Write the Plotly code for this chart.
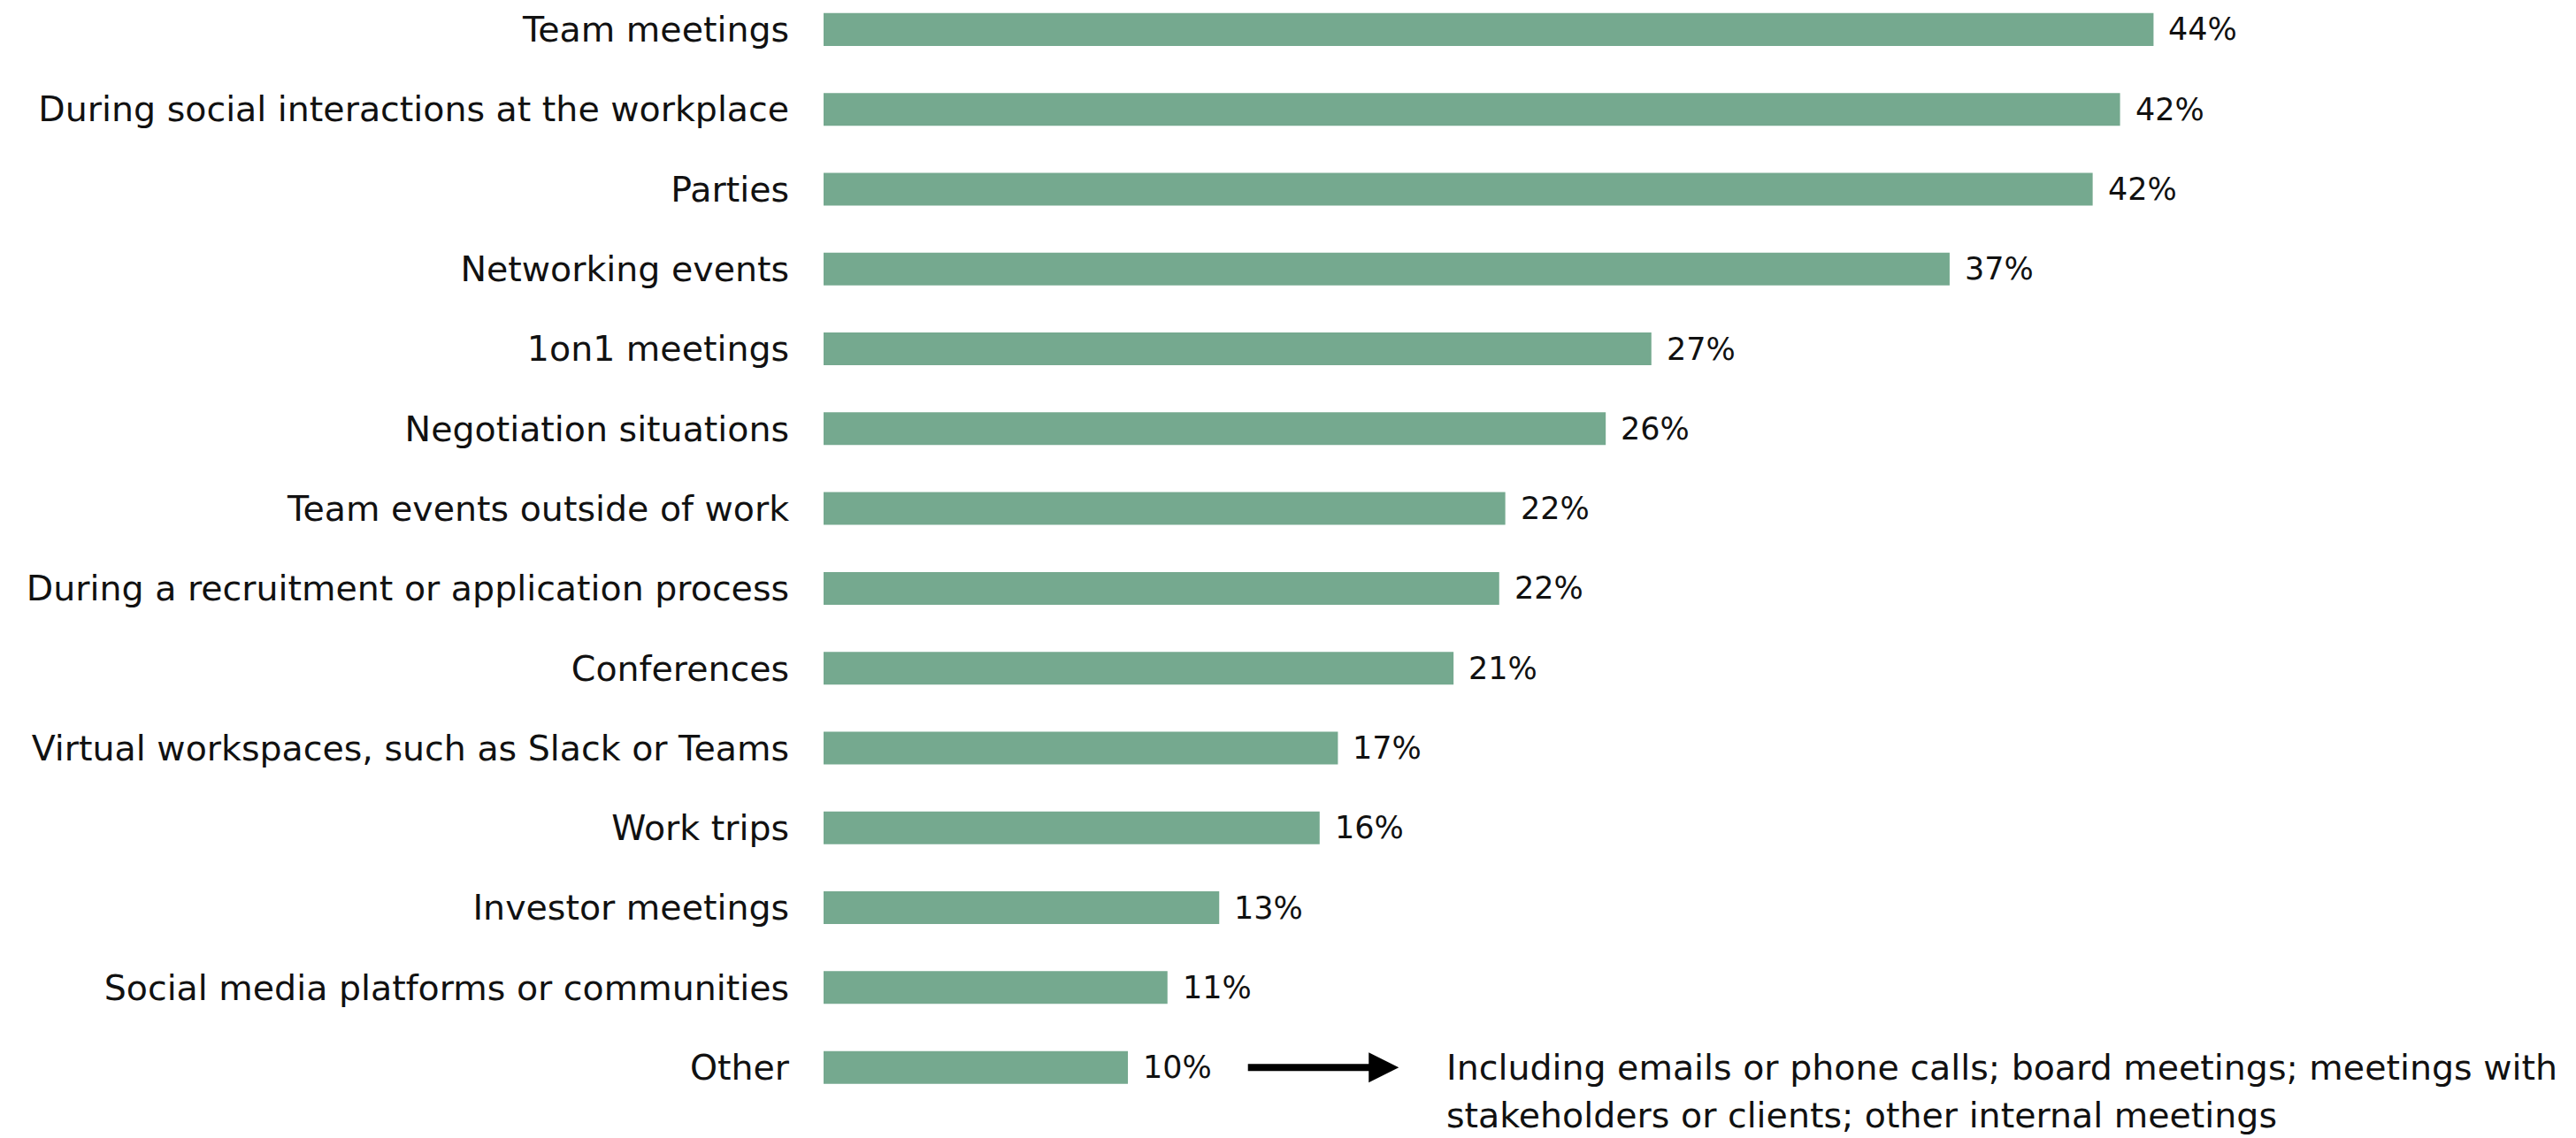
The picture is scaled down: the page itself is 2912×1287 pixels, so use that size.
import plotly.graph_objects as go

categories = [
    "Team meetings",
    "During social interactions at the workplace",
    "Parties",
    "Networking events",
    "1on1 meetings",
    "Negotiation situations",
    "Team events outside of work",
    "During a recruitment or application process",
    "Conferences",
    "Virtual workspaces, such as Slack or Teams",
    "Work trips",
    "Investor meetings",
    "Social media platforms or communities",
    "Other",
]
values = [43.7, 42.6, 41.7, 37.0, 27.2, 25.7, 22.4, 22.2, 20.7, 16.9, 16.3, 13.0, 11.3, 10.0]
value_labels = ["44%", "42%", "42%", "37%", "27%", "26%", "22%", "22%", "21%", "17%", "16%", "13%", "11%", "10%"]
note_lines = [
    "Including emails or phone calls; board meetings; meetings with",
    "stakeholders or clients; other internal meetings",
]
arrow_from, arrow_to = 13.9, 18.9
note_x = 20.4

BAR_COLOR = "#75A98F"
LABEL_FONT = "DejaVu Sans"
TEXT_COLOR = "#111111"

fig = go.Figure(
    go.Bar(
        x=values,
        y=categories,
        orientation="h",
        marker=dict(color=BAR_COLOR, line=dict(width=0)),
        hoverinfo="skip",
    )
)

annotations = []
for cat, v, lab in zip(categories, values, value_labels):
    annotations.append(dict(
        x=v, y=cat, xref="x", yref="y", text=lab, showarrow=False,
        xanchor="left", yanchor="middle", xshift=15,
        font=dict(family=LABEL_FONT, size=35, color=TEXT_COLOR),
    ))

# arrow pointing to the note
annotations.append(dict(
    x=arrow_to, y=categories[-1], xref="x", yref="y",
    ax=arrow_from, ay=0, axref="x", ayref="pixel",
    text="", showarrow=True, arrowhead=2, arrowsize=0.85, arrowwidth=8,
    arrowcolor="#000000", standoff=0, startstandoff=0,
))
for i, line in enumerate(note_lines):
    annotations.append(dict(
        x=note_x, y=categories[-1], xref="x", yref="y", text=line,
        showarrow=False, xanchor="left", yanchor="middle", yshift=-54 * i,
        font=dict(family=LABEL_FONT, size=39.5, color=TEXT_COLOR),
    ))

fig.update_layout(
    width=2904,
    height=1279,
    margin=dict(l=923, r=20, t=0, b=32),
    paper_bgcolor="white",
    plot_bgcolor="white",
    bargap=0.59,
    showlegend=False,
    annotations=annotations,
    xaxis=dict(range=[0, 57], visible=False, showgrid=False, zeroline=False),
    yaxis=dict(
        categoryorder="array",
        categoryarray=categories,
        range=[13.53, -0.281],
        showgrid=False,
        zeroline=False,
        showline=False,
        ticks="outside",
        ticklen=30,
        tickcolor="rgba(0,0,0,0)",
        tickfont=dict(family=LABEL_FONT, size=39.5, color=TEXT_COLOR),
    ),
)

fig.write_html("out.html")
